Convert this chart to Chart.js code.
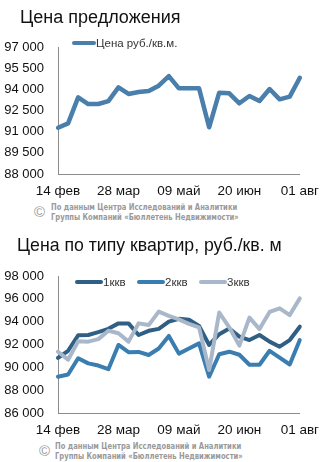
<!DOCTYPE html>
<html lang="ru">
<head>
<meta charset="utf-8">
<script src="https://cdn.jsdelivr.net/npm/chart.js@4.4.1/dist/chart.umd.min.js"></script>
<style>
    body { margin: 0; background: #fff; font-family: "Liberation Sans", Arial, sans-serif; }
    #page { position: relative; width: 328px; height: 462px; overflow: hidden; background: #fff; }
    canvas { position: absolute; left: 0; }
    .title { position: absolute; font-size: 18px; line-height: 18px; color: #111; white-space: nowrap; z-index: 2; }
    .lg { position: absolute; height: 14px; display: flex; align-items: center; font-size: 11.5px; color: #333; white-space: nowrap; z-index: 2; }
    .lg .sw { display: inline-block; height: 4px; border-radius: 2px; }
    .copy { position: absolute; font-size: 15px; color: #9a9a9a; z-index: 2; }
    .note { position: absolute; font-family: "Liberation Sans Narrow", "DejaVu Sans Condensed", sans-serif; font-weight: bold;
            font-size: 8.6px; line-height: 10px; color: #9a9a9a; white-space: nowrap; z-index: 2;
            transform: scaleX(0.88); transform-origin: left top; }
</style>
</head>
<body>
<div id="page">
    <div class="title" style="left:20px; top:8px;">Цена предложения</div>
    <div class="lg" style="left:72px; top:36px;"><span class="sw" style="width:24px; background:#4a7eab;"></span>Цена руб./кв.м.</div>
    <canvas id="offerChart" width="328" height="200" style="top:0;"></canvas>
    <div class="copy" style="left:34px; top:203px;">©</div>
    <div class="note" style="left:51px; top:202px;">По данным Центра Исследований и Аналитики<br>Группы Компаний «Бюллетень Недвижимости»</div>

    <div class="title" style="left:17px; top:236px; font-size:17.7px;">Цена по типу квартир, руб./кв. м</div>
    <div class="lg" style="left:75px; top:275px;"><span class="sw" style="width:28px; background:#2f5f84;"></span>1ккв</div>
    <div class="lg" style="left:137px; top:275px;"><span class="sw" style="width:28px; background:#3a7db0;"></span>2ккв</div>
    <div class="lg" style="left:199px; top:275px;"><span class="sw" style="width:28px; background:#a9b7ca;"></span>3ккв</div>
    <canvas id="typeChart" width="328" height="209" style="top:230px;"></canvas>
    <div class="copy" style="left:39px; top:442px;">©</div>
    <div class="note" style="left:55px; top:441px;">По данным Центра Исследований и Аналитики<br>Группы Компаний «Бюллетень Недвижимости»</div>
</div>

<script>
// ============================================
// DATA
// ============================================

// weekly dates
const weekLabels = ['14 фев', '21 фев', '28 фев', '07 мар', '14 мар', '21 мар', '28 мар',
                    '04 апр', '11 апр', '18 апр', '25 апр', '02 май', '09 май', '16 май',
                    '23 май', '30 май', '06 июн', '13 июн', '20 июн', '27 июн', '04 июл',
                    '11 июл', '18 июл', '25 июл', '01 авг'];
// dates that get a label on the axis
const shownDates = ['14 фев', '28 мар', '09 май', '20 июн', '01 авг'];

// Цена предложения, руб./кв.м.
const offerPrice = [91280, 91590, 93430, 92960, 92960, 93170, 94140, 93670, 93810, 93880,
                    94260, 94940, 94070, 94070, 94070, 91310, 93760, 93720, 93010, 93530,
                    93170, 94020, 93290, 93480, 94820];

// Цена по типу квартир
const flat1 = [90830, 91450, 92800, 92830, 93080, 93370, 93850, 93850, 92830, 93200,
               93370, 94000, 94250, 94170, 93620, 91960, 92900, 93400, 92690, 92390,
               92830, 92250, 91810, 92390, 93560];
const flat2 = [89180, 89370, 90790, 90350, 90160, 89840, 91960, 91330, 91350, 91080,
               91650, 92750, 91200, 91650, 92100, 89180, 91150, 91370, 91100, 90230,
               90230, 91450, 90850, 90250, 92390];
const flat3 = [91370, 90670, 92290, 92250, 92470, 93200, 92980, 92250, 93850, 93700,
               94880, 94500, 94200, 93800, 93500, 89770, 94800, 93500, 91900, 94350,
               93350, 94850, 95170, 94580, 96040];

// y tick values
const offerTicks = [88000, 89500, 91000, 92500, 94000, 95500, 97000];
const typeTicks = [86000, 88000, 90000, 92000, 94000, 96000, 98000];

// ============================================
// HELPERS
// ============================================

function formatThousands(v) {
    return String(v).replace(/\B(?=(\d{3})+(?!\d))/g, ' ');
}

function buildScales(tickValues) {
    return {
        x: {
            offset: false,
            grid: { display: false, drawTicks: false },
            border: { display: true, color: '#8c8c8c', width: 1 },
            afterFit: function(scale) { scale.height = 26; },
            ticks: {
                autoSkip: false,
                maxRotation: 0,
                padding: 9,
                color: '#111',
                font: { family: 'Liberation Sans', size: 13.5 },
                callback: function(val) {
                    const label = this.getLabelForValue(val);
                    return shownDates.includes(label) ? label : '';
                }
            }
        },
        y: {
            min: tickValues[0],
            max: tickValues[tickValues.length - 1],
            grid: { display: false, drawTicks: false },
            border: { display: true, color: '#8c8c8c', width: 1 },
            afterFit: function(scale) { scale.width = 58; },
            afterBuildTicks: function(scale) {
                scale.ticks = tickValues.map(v => ({ value: v }));
            },
            ticks: {
                padding: 14,
                color: '#111',
                font: { family: 'Liberation Sans', size: 13 },
                callback: function(value) { return formatThousands(value); }
            }
        }
    };
}

function lineDataset(label, data, color, width, order) {
    return {
        label: label,
        data: data,
        borderColor: color,
        backgroundColor: color,
        borderWidth: width,
        pointRadius: 0,
        tension: 0,
        fill: false,
        borderJoinStyle: 'round',
        borderCapStyle: 'round',
        order: order
    };
}

const baseOptions = {
    responsive: false,
    animation: false,
    plugins: { legend: { display: false }, tooltip: { enabled: false } }
};

// ============================================
// CHARTS
// ============================================

// Offer price chart
new Chart(document.getElementById('offerChart'), {
    type: 'line',
    data: {
        labels: weekLabels,
        datasets: [lineDataset('Цена руб./кв.м.', offerPrice, '#4a7eab', 4.5, 1)]
    },
    options: Object.assign({}, baseOptions, {
        layout: { padding: { top: 47, right: 25, left: 0, bottom: 0 } },
        scales: buildScales(offerTicks)
    })
});

// Price by flat type chart
new Chart(document.getElementById('typeChart'), {
    type: 'line',
    data: {
        labels: weekLabels,
        datasets: [
            lineDataset('1ккв', flat1, '#2f5f84', 4, 3),
            lineDataset('2ккв', flat2, '#3a7db0', 4, 2),
            lineDataset('3ккв', flat3, '#a9b7ca', 4, 1)
        ]
    },
    options: Object.assign({}, baseOptions, {
        layout: { padding: { top: 46, right: 25, left: 0, bottom: 0 } },
        scales: buildScales(typeTicks)
    })
});
</script>
</body>
</html>
